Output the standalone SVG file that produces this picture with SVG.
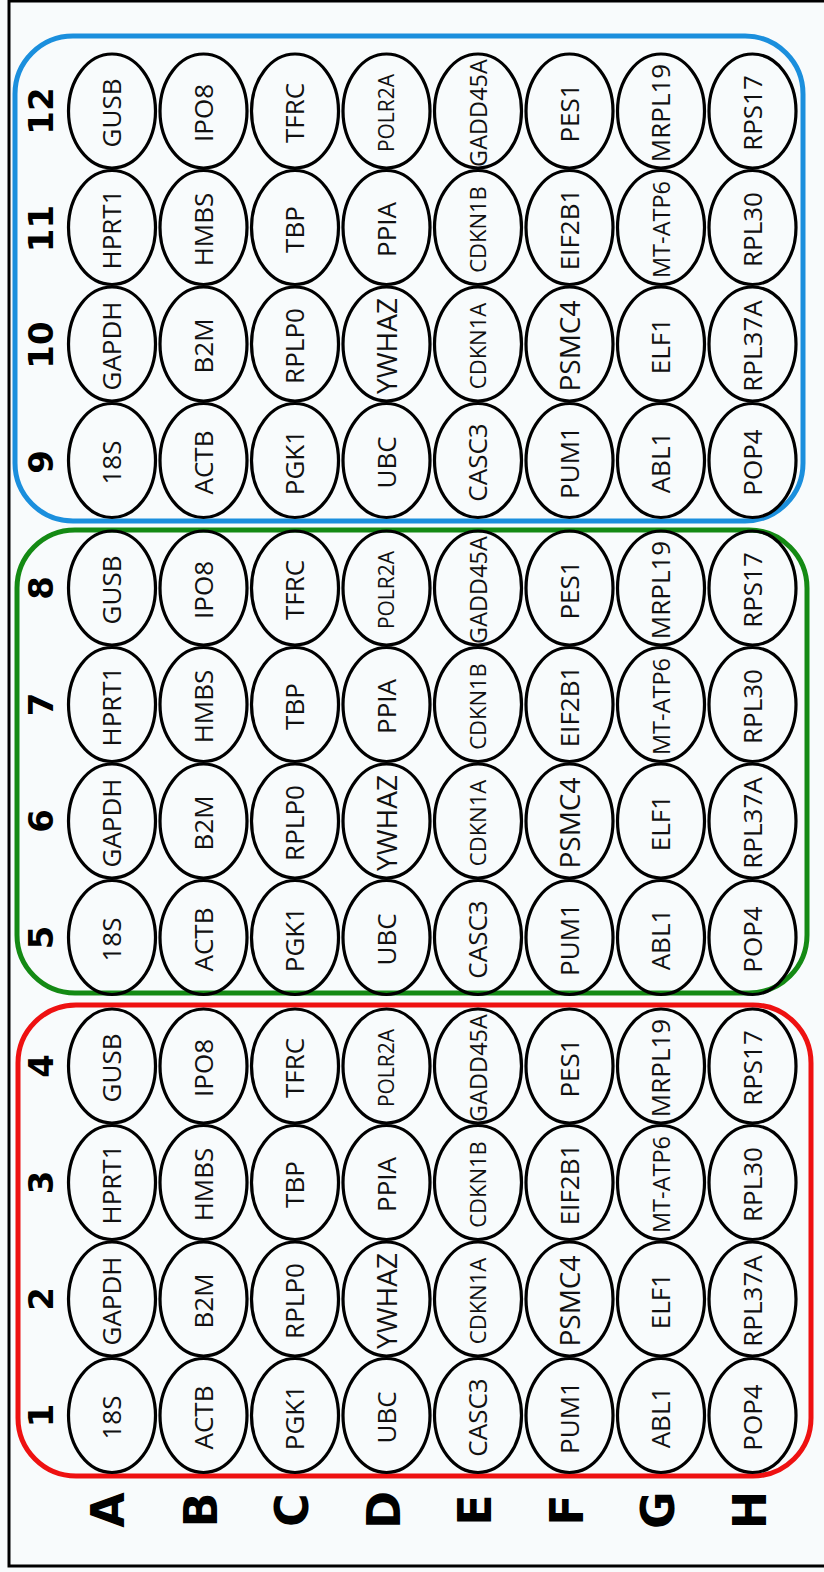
<svg xmlns="http://www.w3.org/2000/svg" width="824" height="1572" viewBox="0 0 824 1572">
<style>
.w ellipse{fill:none;stroke:#000;stroke-width:3.2}
.w text{font-family:"Open Sans","Liberation Sans",sans-serif;font-size:26px;text-anchor:middle;fill:#111}
.w text.s22{font-size:22px}
.w text.s21{font-size:21px}
.w text.s23{font-size:23.5px}
.w text.s28{font-size:28px}
.box{fill:none;stroke-width:5}
.lab{font-family:"DejaVu Sans","Liberation Sans",sans-serif;font-weight:bold;text-anchor:middle;fill:#000}
.num{font-size:34px}
.let{font-size:46px}
</style>
<rect x="0" y="0" width="824" height="1572" fill="#f8fbfc"/>
<rect x="9" y="1" width="830" height="1565" fill="none" stroke="#000" stroke-width="3"/>
<g id="boxes">
<rect class="box" x="15" y="36" width="788" height="485" rx="58" ry="58" stroke="#1b8fdd"/>
<rect class="box" x="17" y="530" width="790" height="463" rx="58" ry="58" stroke="#148a14"/>
<rect class="box" x="18" y="1005" width="793" height="471" rx="58" ry="58" stroke="#ee1111"/>
</g>
<g id="column-labels" class="lab num">
<text transform="translate(53 1415.5) rotate(-90)">1</text>
<text transform="translate(53 1299) rotate(-90)">2</text>
<text transform="translate(53 1182.5) rotate(-90)">3</text>
<text transform="translate(53 1066) rotate(-90)">4</text>
<text transform="translate(53 937.5) rotate(-90)">5</text>
<text transform="translate(53 821) rotate(-90)">6</text>
<text transform="translate(53 704.5) rotate(-90)">7</text>
<text transform="translate(53 588) rotate(-90)">8</text>
<text transform="translate(53 462) rotate(-90)">9</text>
<text transform="translate(53 345) rotate(-90)">10</text>
<text transform="translate(53 228.5) rotate(-90)">11</text>
<text transform="translate(53 111) rotate(-90)">12</text>
</g>
<g id="row-labels" class="lab let">
<text transform="translate(124 1510) rotate(-90)">A</text>
<text transform="translate(216.5 1510) rotate(-90)">B</text>
<text transform="translate(308 1510) rotate(-90)">C</text>
<text transform="translate(399.5 1510) rotate(-90)">D</text>
<text transform="translate(491 1510) rotate(-90)">E</text>
<text transform="translate(582.5 1510) rotate(-90)">F</text>
<text transform="translate(674 1510) rotate(-90)">G</text>
<text transform="translate(765.5 1510) rotate(-90)">H</text>
</g>
<g id="wells">
<!-- column 1 -->
<g id="A1" class="w"><ellipse cx="112" cy="1415.5" rx="43.5" ry="57"/><text transform="translate(121 1417.5) rotate(-90)">18S</text></g>
<g id="B1" class="w"><ellipse cx="203.5" cy="1415.5" rx="43.5" ry="57"/><text transform="translate(212.5 1417.5) rotate(-90)">ACTB</text></g>
<g id="C1" class="w"><ellipse cx="295" cy="1415.5" rx="43.5" ry="57"/><text transform="translate(304 1417.5) rotate(-90)">PGK1</text></g>
<g id="D1" class="w"><ellipse cx="386.5" cy="1415.5" rx="43.5" ry="57"/><text transform="translate(395.5 1417.5) rotate(-90)">UBC</text></g>
<g id="E1" class="w"><ellipse cx="478" cy="1415.5" rx="43.5" ry="57"/><text transform="translate(487 1417.5) rotate(-90)">CASC3</text></g>
<g id="F1" class="w"><ellipse cx="569.5" cy="1415.5" rx="43.5" ry="57"/><text transform="translate(578.5 1417.5) rotate(-90)">PUM1</text></g>
<g id="G1" class="w"><ellipse cx="661" cy="1415.5" rx="43.5" ry="57"/><text transform="translate(670 1417.5) rotate(-90)">ABL1</text></g>
<g id="H1" class="w"><ellipse cx="752.5" cy="1415.5" rx="43.5" ry="57"/><text transform="translate(761.5 1417.5) rotate(-90)">POP4</text></g>
<!-- column 2 -->
<g id="A2" class="w"><ellipse cx="112" cy="1299" rx="43.5" ry="57"/><text transform="translate(121 1301) rotate(-90)">GAPDH</text></g>
<g id="B2" class="w"><ellipse cx="203.5" cy="1299" rx="43.5" ry="57"/><text transform="translate(212.5 1301) rotate(-90)">B2M</text></g>
<g id="C2" class="w"><ellipse cx="295" cy="1299" rx="43.5" ry="57"/><text transform="translate(304 1301) rotate(-90)">RPLP0</text></g>
<g id="D2" class="w"><ellipse cx="386.5" cy="1299" rx="43.5" ry="57"/><text class="s28" transform="translate(396.5 1301) rotate(-90)">YWHAZ</text></g>
<g id="E2" class="w"><ellipse cx="478" cy="1299" rx="43.5" ry="57"/><text class="s22" transform="translate(486 1301) rotate(-90)">CDKN1A</text></g>
<g id="F2" class="w"><ellipse cx="569.5" cy="1299" rx="43.5" ry="57"/><text class="s28" transform="translate(579.5 1301) rotate(-90)">PSMC4</text></g>
<g id="G2" class="w"><ellipse cx="661" cy="1299" rx="43.5" ry="57"/><text transform="translate(670 1301) rotate(-90)">ELF1</text></g>
<g id="H2" class="w"><ellipse cx="752.5" cy="1299" rx="43.5" ry="57"/><text transform="translate(761.5 1301) rotate(-90)">RPL37A</text></g>
<!-- column 3 -->
<g id="A3" class="w"><ellipse cx="112" cy="1182.5" rx="43.5" ry="57"/><text transform="translate(121 1184.5) rotate(-90)">HPRT1</text></g>
<g id="B3" class="w"><ellipse cx="203.5" cy="1182.5" rx="43.5" ry="57"/><text transform="translate(212.5 1184.5) rotate(-90)">HMBS</text></g>
<g id="C3" class="w"><ellipse cx="295" cy="1182.5" rx="43.5" ry="57"/><text transform="translate(304 1184.5) rotate(-90)">TBP</text></g>
<g id="D3" class="w"><ellipse cx="386.5" cy="1182.5" rx="43.5" ry="57"/><text transform="translate(395.5 1184.5) rotate(-90)">PPIA</text></g>
<g id="E3" class="w"><ellipse cx="478" cy="1182.5" rx="43.5" ry="57"/><text class="s22" transform="translate(486 1184.5) rotate(-90)">CDKN1B</text></g>
<g id="F3" class="w"><ellipse cx="569.5" cy="1182.5" rx="43.5" ry="57"/><text transform="translate(578.5 1184.5) rotate(-90)">EIF2B1</text></g>
<g id="G3" class="w"><ellipse cx="661" cy="1182.5" rx="43.5" ry="57"/><text class="s23" transform="translate(669.5 1184.5) rotate(-90)">MT-ATP6</text></g>
<g id="H3" class="w"><ellipse cx="752.5" cy="1182.5" rx="43.5" ry="57"/><text transform="translate(761.5 1184.5) rotate(-90)">RPL30</text></g>
<!-- column 4 -->
<g id="A4" class="w"><ellipse cx="112" cy="1066" rx="43.5" ry="57"/><text transform="translate(121 1068) rotate(-90)">GUSB</text></g>
<g id="B4" class="w"><ellipse cx="203.5" cy="1066" rx="43.5" ry="57"/><text transform="translate(212.5 1068) rotate(-90)">IPO8</text></g>
<g id="C4" class="w"><ellipse cx="295" cy="1066" rx="43.5" ry="57"/><text transform="translate(304 1068) rotate(-90)">TFRC</text></g>
<g id="D4" class="w"><ellipse cx="386.5" cy="1066" rx="43.5" ry="57"/><text class="s21" transform="translate(394 1068) rotate(-90)">POLR2A</text></g>
<g id="E4" class="w"><ellipse cx="478" cy="1066" rx="43.5" ry="57"/><text class="s23" transform="translate(486.5 1068) rotate(-90)">GADD45A</text></g>
<g id="F4" class="w"><ellipse cx="569.5" cy="1066" rx="43.5" ry="57"/><text transform="translate(578.5 1068) rotate(-90)">PES1</text></g>
<g id="G4" class="w"><ellipse cx="661" cy="1066" rx="43.5" ry="57"/><text transform="translate(670 1068) rotate(-90)">MRPL19</text></g>
<g id="H4" class="w"><ellipse cx="752.5" cy="1066" rx="43.5" ry="57"/><text transform="translate(761.5 1068) rotate(-90)">RPS17</text></g>
<!-- column 5 -->
<g id="A5" class="w"><ellipse cx="112" cy="937.5" rx="43.5" ry="57"/><text transform="translate(121 939.5) rotate(-90)">18S</text></g>
<g id="B5" class="w"><ellipse cx="203.5" cy="937.5" rx="43.5" ry="57"/><text transform="translate(212.5 939.5) rotate(-90)">ACTB</text></g>
<g id="C5" class="w"><ellipse cx="295" cy="937.5" rx="43.5" ry="57"/><text transform="translate(304 939.5) rotate(-90)">PGK1</text></g>
<g id="D5" class="w"><ellipse cx="386.5" cy="937.5" rx="43.5" ry="57"/><text transform="translate(395.5 939.5) rotate(-90)">UBC</text></g>
<g id="E5" class="w"><ellipse cx="478" cy="937.5" rx="43.5" ry="57"/><text transform="translate(487 939.5) rotate(-90)">CASC3</text></g>
<g id="F5" class="w"><ellipse cx="569.5" cy="937.5" rx="43.5" ry="57"/><text transform="translate(578.5 939.5) rotate(-90)">PUM1</text></g>
<g id="G5" class="w"><ellipse cx="661" cy="937.5" rx="43.5" ry="57"/><text transform="translate(670 939.5) rotate(-90)">ABL1</text></g>
<g id="H5" class="w"><ellipse cx="752.5" cy="937.5" rx="43.5" ry="57"/><text transform="translate(761.5 939.5) rotate(-90)">POP4</text></g>
<!-- column 6 -->
<g id="A6" class="w"><ellipse cx="112" cy="821" rx="43.5" ry="57"/><text transform="translate(121 823) rotate(-90)">GAPDH</text></g>
<g id="B6" class="w"><ellipse cx="203.5" cy="821" rx="43.5" ry="57"/><text transform="translate(212.5 823) rotate(-90)">B2M</text></g>
<g id="C6" class="w"><ellipse cx="295" cy="821" rx="43.5" ry="57"/><text transform="translate(304 823) rotate(-90)">RPLP0</text></g>
<g id="D6" class="w"><ellipse cx="386.5" cy="821" rx="43.5" ry="57"/><text class="s28" transform="translate(396.5 823) rotate(-90)">YWHAZ</text></g>
<g id="E6" class="w"><ellipse cx="478" cy="821" rx="43.5" ry="57"/><text class="s22" transform="translate(486 823) rotate(-90)">CDKN1A</text></g>
<g id="F6" class="w"><ellipse cx="569.5" cy="821" rx="43.5" ry="57"/><text class="s28" transform="translate(579.5 823) rotate(-90)">PSMC4</text></g>
<g id="G6" class="w"><ellipse cx="661" cy="821" rx="43.5" ry="57"/><text transform="translate(670 823) rotate(-90)">ELF1</text></g>
<g id="H6" class="w"><ellipse cx="752.5" cy="821" rx="43.5" ry="57"/><text transform="translate(761.5 823) rotate(-90)">RPL37A</text></g>
<!-- column 7 -->
<g id="A7" class="w"><ellipse cx="112" cy="704.5" rx="43.5" ry="57"/><text transform="translate(121 706.5) rotate(-90)">HPRT1</text></g>
<g id="B7" class="w"><ellipse cx="203.5" cy="704.5" rx="43.5" ry="57"/><text transform="translate(212.5 706.5) rotate(-90)">HMBS</text></g>
<g id="C7" class="w"><ellipse cx="295" cy="704.5" rx="43.5" ry="57"/><text transform="translate(304 706.5) rotate(-90)">TBP</text></g>
<g id="D7" class="w"><ellipse cx="386.5" cy="704.5" rx="43.5" ry="57"/><text transform="translate(395.5 706.5) rotate(-90)">PPIA</text></g>
<g id="E7" class="w"><ellipse cx="478" cy="704.5" rx="43.5" ry="57"/><text class="s22" transform="translate(486 706.5) rotate(-90)">CDKN1B</text></g>
<g id="F7" class="w"><ellipse cx="569.5" cy="704.5" rx="43.5" ry="57"/><text transform="translate(578.5 706.5) rotate(-90)">EIF2B1</text></g>
<g id="G7" class="w"><ellipse cx="661" cy="704.5" rx="43.5" ry="57"/><text class="s23" transform="translate(669.5 706.5) rotate(-90)">MT-ATP6</text></g>
<g id="H7" class="w"><ellipse cx="752.5" cy="704.5" rx="43.5" ry="57"/><text transform="translate(761.5 706.5) rotate(-90)">RPL30</text></g>
<!-- column 8 -->
<g id="A8" class="w"><ellipse cx="112" cy="588" rx="43.5" ry="57"/><text transform="translate(121 590) rotate(-90)">GUSB</text></g>
<g id="B8" class="w"><ellipse cx="203.5" cy="588" rx="43.5" ry="57"/><text transform="translate(212.5 590) rotate(-90)">IPO8</text></g>
<g id="C8" class="w"><ellipse cx="295" cy="588" rx="43.5" ry="57"/><text transform="translate(304 590) rotate(-90)">TFRC</text></g>
<g id="D8" class="w"><ellipse cx="386.5" cy="588" rx="43.5" ry="57"/><text class="s21" transform="translate(394 590) rotate(-90)">POLR2A</text></g>
<g id="E8" class="w"><ellipse cx="478" cy="588" rx="43.5" ry="57"/><text class="s23" transform="translate(486.5 590) rotate(-90)">GADD45A</text></g>
<g id="F8" class="w"><ellipse cx="569.5" cy="588" rx="43.5" ry="57"/><text transform="translate(578.5 590) rotate(-90)">PES1</text></g>
<g id="G8" class="w"><ellipse cx="661" cy="588" rx="43.5" ry="57"/><text transform="translate(670 590) rotate(-90)">MRPL19</text></g>
<g id="H8" class="w"><ellipse cx="752.5" cy="588" rx="43.5" ry="57"/><text transform="translate(761.5 590) rotate(-90)">RPS17</text></g>
<!-- column 9 -->
<g id="A9" class="w"><ellipse cx="112" cy="460.5" rx="43.5" ry="57"/><text transform="translate(121 462.5) rotate(-90)">18S</text></g>
<g id="B9" class="w"><ellipse cx="203.5" cy="460.5" rx="43.5" ry="57"/><text transform="translate(212.5 462.5) rotate(-90)">ACTB</text></g>
<g id="C9" class="w"><ellipse cx="295" cy="460.5" rx="43.5" ry="57"/><text transform="translate(304 462.5) rotate(-90)">PGK1</text></g>
<g id="D9" class="w"><ellipse cx="386.5" cy="460.5" rx="43.5" ry="57"/><text transform="translate(395.5 462.5) rotate(-90)">UBC</text></g>
<g id="E9" class="w"><ellipse cx="478" cy="460.5" rx="43.5" ry="57"/><text transform="translate(487 462.5) rotate(-90)">CASC3</text></g>
<g id="F9" class="w"><ellipse cx="569.5" cy="460.5" rx="43.5" ry="57"/><text transform="translate(578.5 462.5) rotate(-90)">PUM1</text></g>
<g id="G9" class="w"><ellipse cx="661" cy="460.5" rx="43.5" ry="57"/><text transform="translate(670 462.5) rotate(-90)">ABL1</text></g>
<g id="H9" class="w"><ellipse cx="752.5" cy="460.5" rx="43.5" ry="57"/><text transform="translate(761.5 462.5) rotate(-90)">POP4</text></g>
<!-- column 10 -->
<g id="A10" class="w"><ellipse cx="112" cy="344" rx="43.5" ry="57"/><text transform="translate(121 346) rotate(-90)">GAPDH</text></g>
<g id="B10" class="w"><ellipse cx="203.5" cy="344" rx="43.5" ry="57"/><text transform="translate(212.5 346) rotate(-90)">B2M</text></g>
<g id="C10" class="w"><ellipse cx="295" cy="344" rx="43.5" ry="57"/><text transform="translate(304 346) rotate(-90)">RPLP0</text></g>
<g id="D10" class="w"><ellipse cx="386.5" cy="344" rx="43.5" ry="57"/><text class="s28" transform="translate(396.5 346) rotate(-90)">YWHAZ</text></g>
<g id="E10" class="w"><ellipse cx="478" cy="344" rx="43.5" ry="57"/><text class="s22" transform="translate(486 346) rotate(-90)">CDKN1A</text></g>
<g id="F10" class="w"><ellipse cx="569.5" cy="344" rx="43.5" ry="57"/><text class="s28" transform="translate(579.5 346) rotate(-90)">PSMC4</text></g>
<g id="G10" class="w"><ellipse cx="661" cy="344" rx="43.5" ry="57"/><text transform="translate(670 346) rotate(-90)">ELF1</text></g>
<g id="H10" class="w"><ellipse cx="752.5" cy="344" rx="43.5" ry="57"/><text transform="translate(761.5 346) rotate(-90)">RPL37A</text></g>
<!-- column 11 -->
<g id="A11" class="w"><ellipse cx="112" cy="227.5" rx="43.5" ry="57"/><text transform="translate(121 229.5) rotate(-90)">HPRT1</text></g>
<g id="B11" class="w"><ellipse cx="203.5" cy="227.5" rx="43.5" ry="57"/><text transform="translate(212.5 229.5) rotate(-90)">HMBS</text></g>
<g id="C11" class="w"><ellipse cx="295" cy="227.5" rx="43.5" ry="57"/><text transform="translate(304 229.5) rotate(-90)">TBP</text></g>
<g id="D11" class="w"><ellipse cx="386.5" cy="227.5" rx="43.5" ry="57"/><text transform="translate(395.5 229.5) rotate(-90)">PPIA</text></g>
<g id="E11" class="w"><ellipse cx="478" cy="227.5" rx="43.5" ry="57"/><text class="s22" transform="translate(486 229.5) rotate(-90)">CDKN1B</text></g>
<g id="F11" class="w"><ellipse cx="569.5" cy="227.5" rx="43.5" ry="57"/><text transform="translate(578.5 229.5) rotate(-90)">EIF2B1</text></g>
<g id="G11" class="w"><ellipse cx="661" cy="227.5" rx="43.5" ry="57"/><text class="s23" transform="translate(669.5 229.5) rotate(-90)">MT-ATP6</text></g>
<g id="H11" class="w"><ellipse cx="752.5" cy="227.5" rx="43.5" ry="57"/><text transform="translate(761.5 229.5) rotate(-90)">RPL30</text></g>
<!-- column 12 -->
<g id="A12" class="w"><ellipse cx="112" cy="111" rx="43.5" ry="57"/><text transform="translate(121 113) rotate(-90)">GUSB</text></g>
<g id="B12" class="w"><ellipse cx="203.5" cy="111" rx="43.5" ry="57"/><text transform="translate(212.5 113) rotate(-90)">IPO8</text></g>
<g id="C12" class="w"><ellipse cx="295" cy="111" rx="43.5" ry="57"/><text transform="translate(304 113) rotate(-90)">TFRC</text></g>
<g id="D12" class="w"><ellipse cx="386.5" cy="111" rx="43.5" ry="57"/><text class="s21" transform="translate(394 113) rotate(-90)">POLR2A</text></g>
<g id="E12" class="w"><ellipse cx="478" cy="111" rx="43.5" ry="57"/><text class="s23" transform="translate(486.5 113) rotate(-90)">GADD45A</text></g>
<g id="F12" class="w"><ellipse cx="569.5" cy="111" rx="43.5" ry="57"/><text transform="translate(578.5 113) rotate(-90)">PES1</text></g>
<g id="G12" class="w"><ellipse cx="661" cy="111" rx="43.5" ry="57"/><text transform="translate(670 113) rotate(-90)">MRPL19</text></g>
<g id="H12" class="w"><ellipse cx="752.5" cy="111" rx="43.5" ry="57"/><text transform="translate(761.5 113) rotate(-90)">RPS17</text></g>
</g>
</svg>
